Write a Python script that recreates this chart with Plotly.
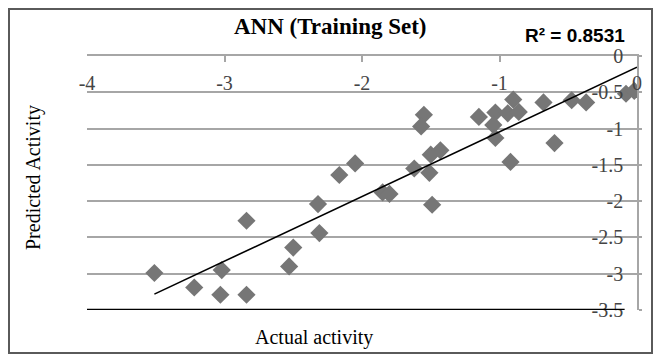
import numpy as np
import plotly.graph_objects as go

# Data
actual = [-3.51, -3.22, -3.03, -3.02, -2.84, -2.84, -2.50, -2.53, -2.32, -2.31,
          -2.165, -2.05, -1.85, -1.80, -1.62, -1.51, -1.49, -1.55, -1.57, -1.50,
          -1.43, -1.15, -1.03, -1.045, -1.03, -0.90, -0.94, -0.86, -0.68, -0.92,
          -0.60, -0.475, -0.37, -0.08, -0.02]
predicted = [-2.99, -3.19, -3.29, -2.95, -3.29, -2.27, -2.64, -2.90, -2.04, -2.44,
             -1.64, -1.48, -1.88, -1.90, -1.55, -1.61, -2.05, -0.81, -0.97, -1.36,
             -1.30, -0.84, -0.78, -0.95, -1.13, -0.60, -0.79, -0.77, -0.64, -1.46,
             -1.20, -0.61, -0.64, -0.52, -0.48]

x_tickvals = [-4, -3, -2, -1, 0]
x_ticktext = ["-4", "-3", "-2", "-1", "0"]
y_tickvals = [0, -0.5, -1, -1.5, -2, -2.5, -3, -3.5]
y_ticktext = ["0", "-0.5", "-1", "-1.5", "-2", "-2.5", "-3", "-3.5"]

title_text = "ANN (Training Set)"
r2_text = "R² = 0.8531"
x_title = "Actual activity"
y_title = "Predicted Activity"

# Linear trendline fitted to the data
slope, intercept = np.polyfit(actual, predicted, 1)
tx = np.array([min(actual), 0.0])
ty = slope * tx + intercept

W, H = 654, 354
L, R, T, B = 87, 17, 56, 44
pw, ph = W - L - R, H - T - B

def px2paper_x(px):
    return (px - L) / pw

def py2paper_y(py):
    return (H - B - py) / ph

serif = "Liberation Serif"
grid = "#a6a6a6"

fig = go.Figure()
fig.add_trace(go.Scatter(
    x=actual, y=predicted, mode="markers",
    marker=dict(symbol="diamond", size=14, color="#767676", line=dict(width=0)),
    showlegend=False, hoverinfo="skip"))
fig.add_trace(go.Scatter(
    x=tx, y=ty, mode="lines", line=dict(color="black", width=1.6),
    showlegend=False, hoverinfo="skip"))

fig.update_layout(
    width=W, height=H,
    margin=dict(l=L, r=R, t=T, b=B, pad=0),
    paper_bgcolor="white", plot_bgcolor="white",
    font=dict(family=serif, size=20, color="black"),
    xaxis=dict(range=[-4, 0], side="top", showline=True, linecolor=grid, linewidth=1.5,
               ticks="inside", ticklen=6, tickcolor=grid, tickwidth=1.5,
               tickvals=x_tickvals, ticktext=x_ticktext,
               ticklabelposition="inside", ticklabeloverflow="allow",
               ticklabelstandoff=15,
               showgrid=False, zeroline=False, fixedrange=True),
    yaxis=dict(range=[-3.5, 0], side="right", showline=True, linecolor=grid, linewidth=1.5,
               ticks="outside", ticklen=3, tickcolor=grid, tickwidth=1.5,
               tickvals=y_tickvals, ticktext=y_ticktext,
               ticklabelposition="inside", ticklabeloverflow="allow",
               ticklabelstandoff=15,
               showgrid=True, gridcolor=grid, gridwidth=1.5, zeroline=False, fixedrange=True),
    shapes=[
        dict(type="line", xref="x", yref="y", x0=-4, x1=-0.09, y0=-3.5, y1=-3.5,
             line=dict(color="black", width=2.5)),
        dict(type="rect", xref="paper", yref="paper",
             x0=px2paper_x(9), x1=px2paper_x(652), y0=py2paper_y(353), y1=py2paper_y(9),
             line=dict(color="#5a5a5a", width=2), layer="above"),
    ],
    annotations=[
        dict(text="<b>" + title_text + "</b>", xref="paper", yref="paper",
             x=px2paper_x(330), y=py2paper_y(27), xanchor="center", yanchor="middle",
             showarrow=False, font=dict(family=serif, size=23, color="black")),
        dict(text="<b>" + r2_text + "</b>", xref="paper", yref="paper",
             x=px2paper_x(575), y=py2paper_y(36), xanchor="center", yanchor="middle",
             showarrow=False, font=dict(family="Liberation Sans", size=19, color="black")),
        dict(text=x_title, xref="paper", yref="paper",
             x=px2paper_x(314), y=py2paper_y(337), xanchor="center", yanchor="middle",
             showarrow=False, font=dict(family=serif, size=20, color="black")),
        dict(text=y_title, xref="paper", yref="paper", textangle=-90,
             x=px2paper_x(33), y=py2paper_y(178), xanchor="center", yanchor="middle",
             showarrow=False, font=dict(family=serif, size=20, color="black")),
    ],
)

fig.write_html("out.html")
